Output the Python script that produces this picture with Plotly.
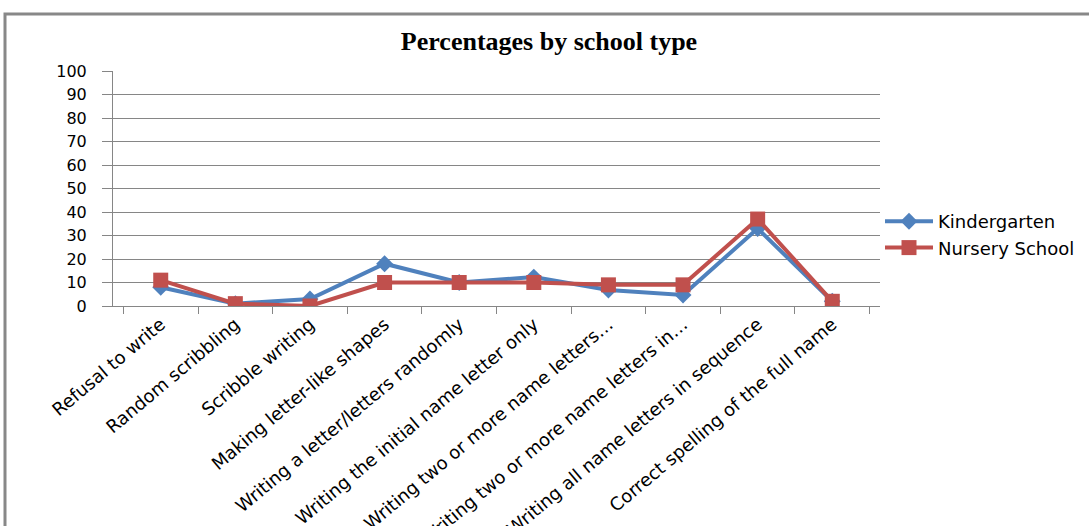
import plotly.graph_objects as go

categories = [
    "Refusal to write",
    "Random scribbling",
    "Scribble writing",
    "Making letter-like shapes",
    "Writing a letter/letters randomly",
    "Writing the initial name letter only",
    "Writing two or more name letters…",
    "Writing two or more name letters in…",
    "Writing all name letters in sequence",
    "Correct spelling of the full name",
]
kindergarten = [8, 1, 3, 18, 10, 12.3, 6.8, 4.7, 33, 2]
nursery = [11, 1, 0, 10, 10, 10, 9, 9, 37, 2]
y_ticks = [0, 10, 20, 30, 40, 50, 60, 70, 80, 90, 100]

L, R, T, B = 113, 209, 71, 220
W, H = 1089, 526
pw, ph = W - L - R, H - T - B

fig = go.Figure()
fig.add_trace(go.Scatter(
    x=categories, y=kindergarten, name="Kindergarten", mode="lines+markers",
    line=dict(color="#4F81BD", width=4),
    marker=dict(symbol="diamond", size=13, color="#4F81BD"),
))
fig.add_trace(go.Scatter(
    x=categories, y=nursery, name="Nursery School", mode="lines+markers",
    line=dict(color="#C0504D", width=4),
    marker=dict(symbol="square", size=15, color="#C0504D"),
))

fig.update_layout(
    width=W, height=H,
    margin=dict(l=L, r=R, t=T, b=B, autoexpand=False),
    paper_bgcolor="white", plot_bgcolor="white",
    font=dict(family="DejaVu Sans", size=15, color="#000"),
    title=dict(text="<b>Percentages by school type</b>", x=549 / W, xanchor="center",
               y=1 - 41 / H, yanchor="middle",
               font=dict(family="Liberation Serif", size=26, color="#000")),
    legend=dict(x=(880 - L) / pw, xanchor="left", y=(306 - 203) / ph, yanchor="top",
                font=dict(family="DejaVu Sans", size=18), bgcolor="rgba(0,0,0,0)",
                itemwidth=48, tracegroupgap=0),
    showlegend=True,
    xaxis=dict(type="category", tickangle=-40, tickson="boundaries",
               ticks="outside", ticklen=7, tickcolor="#868686",
               showline=True, linecolor="#868686", linewidth=1,
               showgrid=False, tickfont=dict(size=18), automargin=False),
    yaxis=dict(range=[0, 100], tickvals=y_ticks, ticks="outside", ticklen=10,
               tickcolor="#868686", showline=True, linecolor="#868686",
               showgrid=True, gridcolor="#868686", gridwidth=1,
               zeroline=False, tickfont=dict(size=16), ticklabelstandoff=12,
               automargin=False),
    shapes=[dict(type="rect", xref="paper", yref="paper",
                 x0=(5 - L) / pw, x1=(W + 20 - L) / pw,
                 y0=(306 - (H + 20)) / ph, y1=(306 - 14) / ph,
                 line=dict(color="#888888", width=3), fillcolor="rgba(0,0,0,0)",
                 layer="below")],
)

fig.write_html("out.html")
